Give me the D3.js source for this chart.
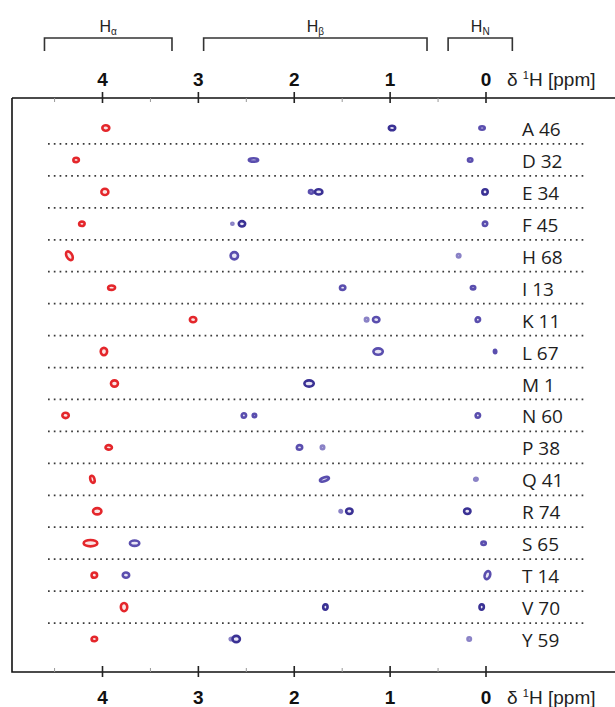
<!DOCTYPE html>
<html>
<head>
<meta charset="utf-8">
<script src="https://cdn.jsdelivr.net/npm/d3@7"></script>
<style>
  body { margin: 0; background: #fff; }
  svg { display: block; }
</style>
</head>
<body>
<svg id="chart" width="615" height="707"></svg>
<script>
// residues, one row each
const residues = ["A 46", "D 32", "E 34", "F 45", "H 68", "I 13", "K 11", "L 67", "M 1",
                  "N 60", "P 38", "Q 41", "R 74", "S 65", "T 14", "V 70", "Y 59"]

// H-alpha peaks per row: [ppm, width ppm, height (rows), tilt deg]
const alphaPeaks = [
  [3.96, 0.10, 0.25, 0], [4.27, 0.085, 0.22, 0], [3.97, 0.10, 0.28, 0], [4.21, 0.085, 0.22, 0],
  [4.34, 0.085, 0.38, -30], [3.90, 0.10, 0.22, 0], [3.05, 0.094, 0.25, 0], [3.98, 0.094, 0.31, 0],
  [3.87, 0.10, 0.28, 0], [4.38, 0.094, 0.25, 0], [3.93, 0.094, 0.22, 0], [4.10, 0.07, 0.31, -15],
  [4.05, 0.115, 0.28, 0], [4.12, 0.17, 0.28, 0], [4.08, 0.085, 0.25, 0], [3.77, 0.094, 0.34, 0],
  [4.08, 0.085, 0.22, 0]
]

// H-beta / H-N peaks: [row, ppm, width ppm, height (rows), shade 0..2, tilt deg]
const otherPeaks = [
  [0, 0.975, 0.094, 0.22, 0, 0], [0, 0.036, 0.083, 0.19, 1, 0],
  [1, 2.42, 0.125, 0.19, 1, 0], [1, 0.16, 0.073, 0.19, 1, 0],
  [2, 1.82, 0.07, 0.19, 1, 0], [2, 1.74, 0.104, 0.25, 0, 0], [2, 0.005, 0.083, 0.25, 0, 0],
  [3, 2.64, 0.05, 0.13, 2, 0], [3, 2.54, 0.094, 0.25, 0, 0], [3, 0.005, 0.073, 0.22, 1, 0],
  [4, 2.62, 0.104, 0.31, 1, 0], [4, 0.28, 0.063, 0.19, 2, 0],
  [5, 1.49, 0.083, 0.22, 1, 0], [5, 0.13, 0.073, 0.19, 1, 0],
  [6, 1.24, 0.063, 0.19, 2, 0], [6, 1.14, 0.094, 0.25, 1, 0], [6, 0.08, 0.073, 0.22, 1, 0],
  [7, 1.12, 0.125, 0.28, 1, 0], [7, -0.10, 0.052, 0.19, 1, 0],
  [8, 1.84, 0.125, 0.28, 0, 0],
  [9, 2.52, 0.073, 0.22, 1, 0], [9, 2.41, 0.063, 0.19, 1, 0], [9, 0.08, 0.073, 0.22, 1, 0],
  [10, 1.94, 0.083, 0.22, 1, 0], [10, 1.70, 0.063, 0.19, 2, 0],
  [11, 1.68, 0.125, 0.20, 1, -20], [11, 0.10, 0.063, 0.17, 2, 0],
  [12, 1.51, 0.052, 0.16, 2, 0], [12, 1.42, 0.094, 0.25, 0, 0], [12, 0.19, 0.094, 0.25, 0, 0],
  [13, 3.66, 0.125, 0.25, 1, 0], [13, 0.02, 0.073, 0.19, 1, 0],
  [14, 3.75, 0.094, 0.25, 1, 0], [14, -0.02, 0.083, 0.34, 1, 20],
  [15, 1.67, 0.073, 0.25, 0, 0], [15, 0.04, 0.073, 0.25, 0, 0],
  [16, 2.65, 0.063, 0.16, 2, 0], [16, 2.60, 0.104, 0.28, 0, 0], [16, 0.17, 0.063, 0.19, 2, 0]
]

const majorTicks = [0, 1, 2, 3, 4]
const minorTicks = [0.5, 1.5, 2.5, 3.5, 4.5]

// brackets: [label, subscript, from ppm, to ppm]
const groups = [["H", "\u03b1", 4.6, 3.27], ["H", "\u03b2", 2.94, 0.61], ["H", "N", 0.39, -0.28]]

const svg = d3.select("#chart")
const frameTop = 98, frameBottom = 672, frameLeft = 12

const x = d3.scaleLinear().domain([0, 4]).range([485.5, 102])
const y = d3.scalePoint().domain(d3.range(residues.length)).range([128, 639])
const step = y.step()

const shades = ["#3a3194", "#5a4eae", "#8a82c6"]
const red = "#e4262b"

// frame
svg.append("path")
  .attr("d", `M${frameLeft},${frameTop}H620M${frameLeft},${frameTop}V${frameBottom}H620`)
  .attr("fill", "none").attr("stroke", "#111").attr("stroke-width", 1.6)

// dotted separators
svg.append("g").selectAll("line")
  .data(d3.range(residues.length - 1))
  .join("line")
    .attr("x1", 48).attr("x2", 584)
    .attr("y1", d => y(d) + step / 2).attr("y2", d => y(d) + step / 2)
    .attr("stroke", "#3a3a3a").attr("stroke-width", 1.8)
    .attr("stroke-dasharray", "1.7 4.1")

// axes
function drawAxis(pos, gen, labelY) {
  const g = svg.append("g").attr("transform", `translate(0,${pos})`)
    .call(gen(x).tickValues(majorTicks).tickFormat(d3.format("d")))
  g.select(".domain").remove()
  g.selectAll(".tick line").attr("y1", -6).attr("y2", 5)
    .attr("stroke", "#222").attr("stroke-width", 1.6)
  g.selectAll(".tick text")
    .attr("y", labelY).attr("dy", 0)
    .attr("font-family", "Liberation Sans, Arial, sans-serif")
    .attr("font-weight", "bold").attr("font-size", 19).attr("fill", "#111")

  const m = svg.append("g").attr("transform", `translate(0,${pos})`)
    .call(gen(x).tickValues(minorTicks).tickSize(-4).tickFormat(""))
  m.select(".domain").remove()
  m.selectAll(".tick line").attr("stroke", "#999").attr("stroke-width", 1)

  const t = svg.append("text")
    .attr("x", 507).attr("y", pos + labelY)
    .attr("font-family", "Liberation Sans, Arial, sans-serif")
    .attr("font-size", 19).attr("fill", "#222")
  t.append("tspan").text("\u03b4 ")
  t.append("tspan").text("1").attr("font-size", 11).attr("dy", -7)
  t.append("tspan").text("H [ppm]").attr("dy", 7)
}
drawAxis(frameTop, d3.axisTop, -12)
drawAxis(frameBottom, d3.axisBottom, 32)

// group brackets
const br = svg.append("g")
groups.forEach(([h, sub, a, b]) => {
  const x0 = x(a), x1 = x(b)
  br.append("path")
    .attr("d", `M${x0},51V38H${x1}V51`)
    .attr("fill", "none").attr("stroke", "#333").attr("stroke-width", 1.6)
  const t = br.append("text")
    .attr("x", (x0 + x1) / 2).attr("y", 32)
    .attr("text-anchor", "middle")
    .attr("font-family", "Liberation Sans, Arial, sans-serif")
    .attr("font-size", 16).attr("fill", "#222")
  t.append("tspan").text(h)
  t.append("tspan").text(sub).attr("font-size", 10).attr("dy", 3)
})

// residue labels
svg.append("g").selectAll("text")
  .data(residues)
  .join("text")
    .attr("x", 522).attr("y", (d, i) => y(i) + 8)
    .attr("font-family", "Open Sans, sans-serif")
    .attr("font-size", 19).attr("fill", "#1e1e1e")
    .text(d => d)

// peaks
function peak(g, cx, cy, w, h, tilt, color, fill) {
  const rx = Math.abs(x(0) - x(w)) / 2, ry = h * step / 2
  const e = g.append("g").attr("transform", `translate(${cx},${cy}) rotate(${tilt})`)
  e.append("ellipse")
    .attr("rx", Math.max(rx - 1.3, 1)).attr("ry", Math.max(ry - 1.3, 1))
    .attr("fill", fill).attr("stroke", color).attr("stroke-width", 2.6)
}

const pk = svg.append("g")
alphaPeaks.forEach(([ppm, w, h, tilt], i) => {
  peak(pk, x(ppm), y(i), w, h, tilt, red, "#fbe4e4")
})
otherPeaks.forEach(([row, ppm, w, h, s, tilt]) => {
  peak(pk, x(ppm), y(row), w, h, tilt, shades[s], "#e8e5f5")
})
</script>
</body>
</html>
